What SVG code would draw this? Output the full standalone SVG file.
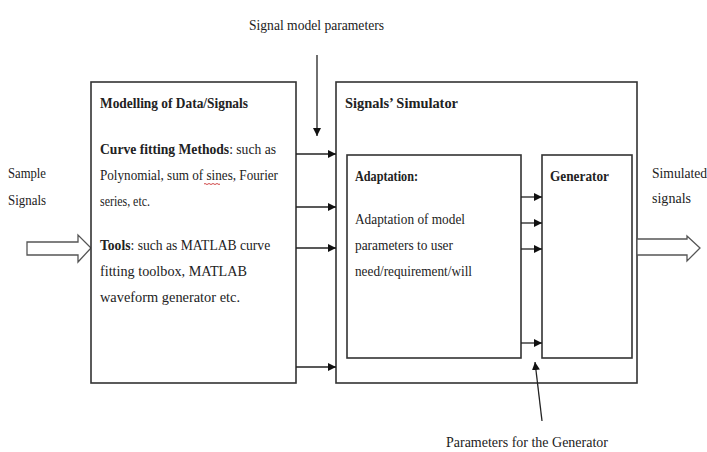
<svg xmlns="http://www.w3.org/2000/svg" width="707" height="452" viewBox="0 0 707 452">
<style>
.box{fill:#fff;stroke:#333;stroke-width:1.6}
.t{font-family:"Liberation Serif","Times New Roman",serif;font-size:15.5px;fill:#222}
.s{font-size:13.6px}
.b{font-weight:bold}
.c{stroke:#222;stroke-width:1.3;fill:none}
.hollow{fill:#fff;stroke:#555;stroke-width:1.3}
</style>
<defs>
<marker id="ah" viewBox="0 0 10 10" refX="10" refY="5" markerWidth="8" markerHeight="8" markerUnits="userSpaceOnUse" orient="auto">
<path d="M0,0 L10,5 L0,10 Z" fill="#111"/>
</marker>
</defs>
<rect width="707" height="452" fill="#fff"/>

<g id="label-top">
<text class="t" x="249" y="30" textLength="135" lengthAdjust="spacingAndGlyphs">Signal model parameters</text>
</g>

<g id="sample-signals">
<text class="t" x="8" y="178" textLength="38" lengthAdjust="spacingAndGlyphs">Sample</text>
<text class="t" x="8" y="205" textLength="38" lengthAdjust="spacingAndGlyphs">Signals</text>
<polygon class="hollow" points="27,242 78,242 78,235 91,248 78,262 78,255 27,255"/>
</g>

<g id="modelling">
<rect class="box" x="91" y="82" width="205" height="301"/>
<text class="t b" x="100" y="108" textLength="148" lengthAdjust="spacingAndGlyphs">Modelling of Data/Signals</text>
<text class="t s" x="100" y="154"><tspan class="b">Curve fitting Methods</tspan>: such as</text>
<text class="t" x="100" y="180" textLength="178" lengthAdjust="spacingAndGlyphs">Polynomial, sum of sines, Fourier</text>
<path d="M204,184 q1,-1 2,0 t2,0 t2,0 t2,0 t2,0 t2,0 t2,0 t2,0" stroke="#c33" stroke-width="0.9" fill="none"/>
<text class="t" x="100" y="206" textLength="50" lengthAdjust="spacingAndGlyphs">series, etc.</text>
<text class="t s" x="100" y="250"><tspan class="b">Tools</tspan>: such as MATLAB curve</text>
<text class="t" x="100" y="276" textLength="147" lengthAdjust="spacingAndGlyphs">fitting toolbox, MATLAB</text>
<text class="t" x="100" y="302" textLength="140" lengthAdjust="spacingAndGlyphs">waveform generator etc.</text>
</g>

<g id="simulator">
<rect class="box" x="336" y="82" width="301" height="301"/>
<text class="t b" x="345" y="108" textLength="113" lengthAdjust="spacingAndGlyphs">Signals’ Simulator</text>
</g>

<g id="adaptation">
<rect class="box" x="347" y="155" width="174" height="203"/>
<text class="t b" x="355" y="181" textLength="63" lengthAdjust="spacingAndGlyphs">Adaptation:</text>
<text class="t" x="355" y="224" textLength="110" lengthAdjust="spacingAndGlyphs">Adaptation of model</text>
<text class="t" x="355" y="250" textLength="98" lengthAdjust="spacingAndGlyphs">parameters to user</text>
<text class="t" x="355" y="276" textLength="117" lengthAdjust="spacingAndGlyphs">need/requirement/will</text>
</g>

<g id="generator">
<rect class="box" x="542" y="155" width="90" height="203"/>
<text class="t b" x="550" y="181" textLength="59" lengthAdjust="spacingAndGlyphs">Generator</text>
</g>

<g id="simulated-signals">
<text class="t s" x="652" y="178">Simulated</text>
<text class="t" x="652" y="203" textLength="39" lengthAdjust="spacingAndGlyphs">signals</text>
<polygon class="hollow" points="637,239 687,239 687,236 700,248 687,261 687,255 637,255"/>
</g>

<g id="label-bottom">
<text class="t" x="446" y="447" textLength="162" lengthAdjust="spacingAndGlyphs">Parameters for the Generator</text>
</g>

<g id="connectors">
<line class="c" x1="317" y1="55" x2="317" y2="136" marker-end="url(#ah)"/>
<line class="c" x1="296" y1="154" x2="336" y2="154" marker-end="url(#ah)"/>
<line class="c" x1="296" y1="207" x2="336" y2="207" marker-end="url(#ah)"/>
<line class="c" x1="296" y1="248" x2="336" y2="248" marker-end="url(#ah)"/>
<line class="c" x1="296" y1="367" x2="336" y2="367" marker-end="url(#ah)"/>
<line class="c" x1="521" y1="197" x2="542" y2="197" marker-end="url(#ah)"/>
<line class="c" x1="521" y1="223" x2="542" y2="223" marker-end="url(#ah)"/>
<line class="c" x1="521" y1="249" x2="542" y2="249" marker-end="url(#ah)"/>
<line class="c" x1="521" y1="343" x2="542" y2="343" marker-end="url(#ah)"/>
<line class="c" x1="542" y1="421" x2="535" y2="362" marker-end="url(#ah)"/>
</g>
</svg>
